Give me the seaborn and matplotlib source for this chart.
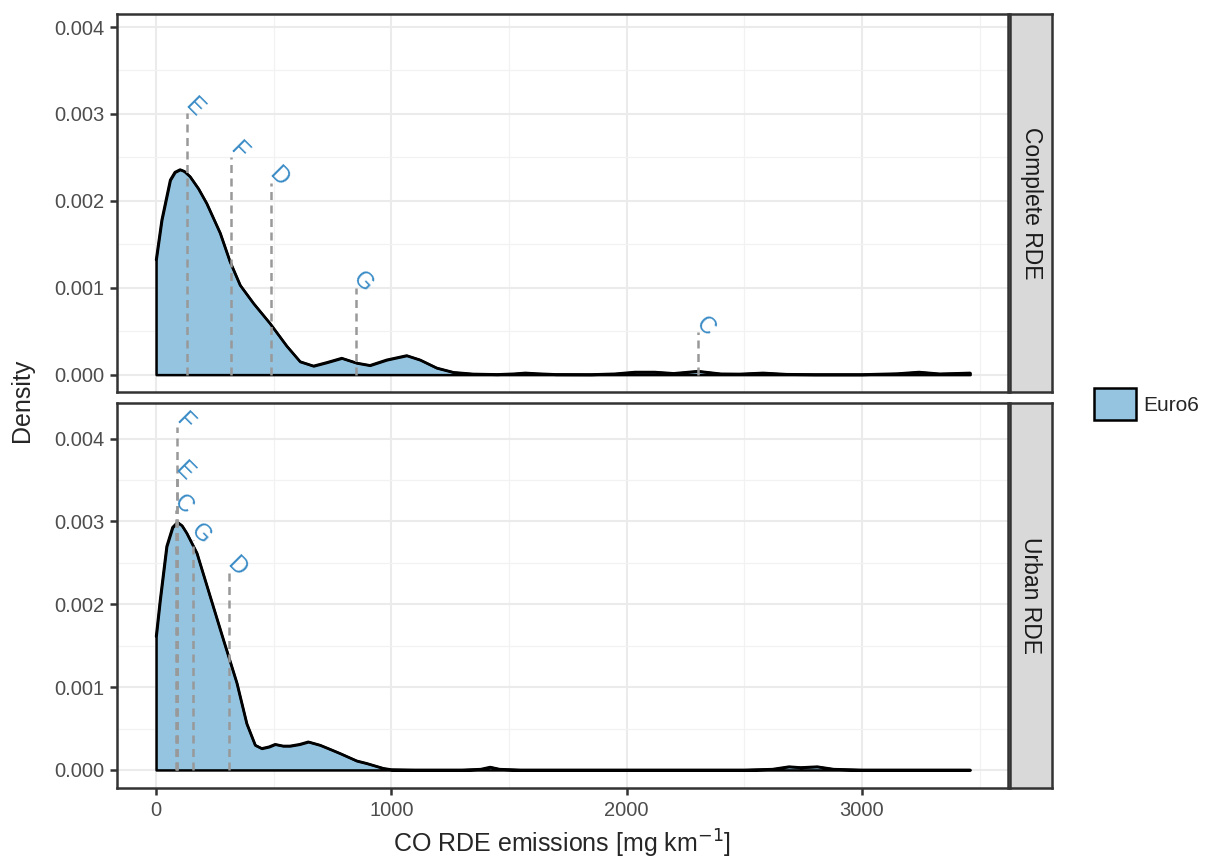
import numpy as np
import pandas as pd
import matplotlib
matplotlib.use("Agg")
import matplotlib.pyplot as plt
import seaborn as sns
from matplotlib.patches import Patch
from matplotlib.ticker import MultipleLocator, FormatStrFormatter

# density curves (x in mg/km, density x 1000)
top_x = [0, 24, 60, 80, 102, 120, 144, 180, 215, 272, 314, 357, 414, 484, 555, 612, 669, 725,
         789, 853, 909, 980, 1065, 1122, 1193, 1264, 1348, 1450, 1520, 1570, 1620, 1700, 1850,
         1950, 2036, 2120, 2200, 2303, 2400, 2480, 2580, 2680, 2800, 3000, 3150, 3243, 3330,
         3400, 3460]
top_y = [1.32, 1.78, 2.24, 2.33, 2.36, 2.34, 2.28, 2.14, 1.97, 1.63, 1.30, 1.03, 0.82, 0.59,
         0.33, 0.15, 0.10, 0.14, 0.19, 0.134, 0.107, 0.17, 0.22, 0.17, 0.077, 0.027, 0.008,
         0.003, 0.01, 0.02, 0.012, 0.003, 0.002, 0.01, 0.03, 0.03, 0.015, 0.04, 0.01, 0.008,
         0.02, 0.005, 0.002, 0.002, 0.012, 0.03, 0.01, 0.015, 0.02]

bot_x = [0, 17, 45, 70, 91, 110, 130, 173, 230, 286, 343, 385, 421, 449, 480, 506, 540, 569,
         610, 647, 697, 740, 782, 853, 895, 966, 1000, 1100, 1300, 1380, 1420, 1460, 1550, 2000,
         2500, 2620, 2690, 2740, 2810, 2880, 3000, 3460]
bot_y = [1.61, 2.05, 2.70, 2.93, 2.99, 2.95, 2.86, 2.62, 2.09, 1.57, 1.05, 0.56, 0.30, 0.26,
         0.28, 0.31, 0.29, 0.29, 0.31, 0.34, 0.30, 0.25, 0.20, 0.11, 0.08, 0.02, 0.005, 0.001,
         0.001, 0.01, 0.035, 0.01, 0.001, 0.001, 0.001, 0.01, 0.04, 0.03, 0.04, 0.01, 0.001,
         0.001]

# vehicle labels
top_lab = ["E", "F", "D", "G", "C"]
top_lab_x = [132, 319, 489, 850, 2303]
top_lab_y = [0.00301, 0.00251, 0.00221, 0.00100, 0.00049]

bot_lab = ["F", "E", "C", "G", "D"]
bot_lab_x = [90, 88, 86, 159, 310]
bot_lab_y = [0.00414, 0.00354, 0.00314, 0.00278, 0.00238]

panels = ["Complete RDE", "Urban RDE"]

curves = pd.concat([
    pd.DataFrame({"x": top_x, "density": np.array(top_y) / 1000, "cycle": panels[0]}),
    pd.DataFrame({"x": bot_x, "density": np.array(bot_y) / 1000, "cycle": panels[1]}),
])
labels = pd.concat([
    pd.DataFrame({"lab": top_lab, "x": top_lab_x, "y": top_lab_y, "cycle": panels[0]}),
    pd.DataFrame({"lab": bot_lab, "x": bot_lab_x, "y": bot_lab_y, "cycle": panels[1]}),
])

sns.set_style("white")
plt.rcParams["font.family"] = ["Liberation Sans", "DejaVu Sans"]

fill_col = "#94c4df"
lab_col = "#3a8cc6"
dark = "#333333"

W, H = 1207, 861
fig = plt.figure(figsize=(W / 100, H / 100), dpi=100)

boxes = [(14, 392), (403, 788)]
ylims = [(-0.0002, 0.00415), (-0.000218, 0.00443)]
left, right = 117, 1008

for i, cyc in enumerate(panels):
    t, b = boxes[i]
    ax = fig.add_axes([left / W, 1 - b / H, (right - left) / W, (b - t) / H])
    d = curves[curves["cycle"] == cyc]
    ax.fill_between(d["x"], d["density"], color=fill_col, edgecolor="black", linewidth=1.8, zorder=2)
    sns.lineplot(data=d, x="x", y="density", color="black", linewidth=1.8, ax=ax, zorder=3)

    l = labels[labels["cycle"] == cyc]
    for _, r in l.iterrows():
        ax.plot([r["x"], r["x"]], [0, r["y"]], ls=(0, (3.2, 2.2)), color="#999999", lw=1.8, zorder=4)
        ax.annotate(r["lab"], (r["x"], r["y"]), xytext=(5, 4), textcoords="offset points",
                    ha="center", va="center", rotation=-45, color=lab_col, fontsize=17, zorder=5)

    ax.set_xlim(-166, 3621)
    ax.set_ylim(*ylims[i])
    ax.xaxis.set_major_locator(MultipleLocator(1000))
    ax.xaxis.set_minor_locator(MultipleLocator(500))
    ax.yaxis.set_major_locator(MultipleLocator(0.001))
    ax.yaxis.set_minor_locator(MultipleLocator(0.0005))
    ax.yaxis.set_major_formatter(FormatStrFormatter("%.3f"))
    ax.grid(which="major", color="#ebebeb", linewidth=1.5, zorder=0)
    ax.grid(which="minor", color="#f2f2f2", linewidth=0.9, zorder=0)
    ax.set_axisbelow(True)
    ax.tick_params(which="major", length=5, width=1.8, color=dark, labelsize=14.5,
                   labelcolor="#4d4d4d", left=True, bottom=True, pad=4)
    ax.tick_params(which="minor", length=0)
    for s in ax.spines.values():
        s.set_color(dark)
        s.set_linewidth(1.8)
    ax.set_xlabel("")
    ax.set_ylabel("")
    if i == 0:
        ax.tick_params(labelbottom=False, bottom=False)

    # facet strip on the right
    sax = fig.add_axes([1010 / W, 1 - b / H, 42 / W, (b - t) / H])
    sax.set_facecolor("#d9d9d9")
    sax.set_xticks([])
    sax.set_yticks([])
    for s in sax.spines.values():
        s.set_color(dark)
        s.set_linewidth(1.8)
    sax.text(0.5, 0.5, cyc, rotation=-90, ha="center", va="center", fontsize=16.5,
             color="#1a1a1a", transform=sax.transAxes)

fig.text(22 / W, 1 - 400 / H, "Density", rotation=90, ha="center", va="center", fontsize=18)
fig.text(562 / W, 1 - 844 / H, "CO RDE emissions [mg km$^{-1}$]", ha="center", va="center",
         fontsize=18)

handle = Patch(facecolor=fill_col, edgecolor="black", linewidth=1.8)
fig.legend(handles=[handle], labels=["Euro6"], loc="center left",
           bbox_to_anchor=(1094 / W, 1 - 404 / H), frameon=False, fontsize=15,
           handlelength=2.0, handleheight=2.0, handletextpad=0.35,
           borderpad=0, borderaxespad=0)

fig.savefig("out.png", dpi=100)
